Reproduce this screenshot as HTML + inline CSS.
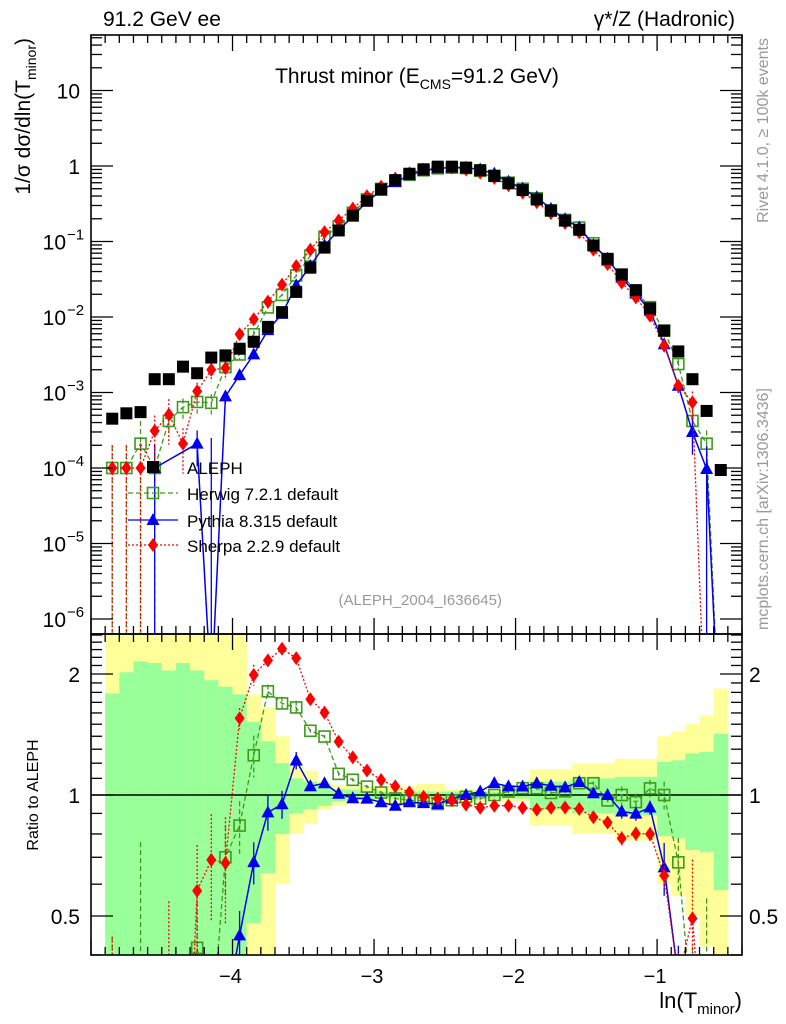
<!DOCTYPE html>
<html><head><meta charset="utf-8"><style>
html,body{margin:0;padding:0;background:#fff;width:786px;height:1024px;overflow:hidden;}
svg{display:block;font-family:"Liberation Sans",Arial,sans-serif;}
</style></head><body>
<svg id="plot" width="786" height="1024" viewBox="0 0 786 1024" overflow="hidden" xmlns="http://www.w3.org/2000/svg">
<defs>
<clipPath id="clipMain"><rect x="91" y="35" width="651" height="599"/></clipPath>
<clipPath id="clipRatio"><rect x="91" y="634" width="651" height="321"/></clipPath>
</defs>
<g id="bands" clip-path="url(#clipRatio)"></g>
<g id="marks"></g>
<g id="axes"></g>
<text x="103" y="26" font-size="21">91.2 GeV ee</text>
<text x="735" y="26" font-size="21" text-anchor="end">γ*/Z (Hadronic)</text>
<text x="417" y="83" font-size="21" text-anchor="middle">Thrust minor (E<tspan font-size="14" dy="6">CMS</tspan><tspan dy="-6">=91.2 GeV)</tspan></text>
<text transform="translate(30,38) rotate(-90)" font-size="21" text-anchor="end">1/σ  dσ/dln(T<tspan font-size="14" dy="6">minor</tspan><tspan dy="-6">)</tspan></text>
<text transform="translate(768,38) rotate(-90)" font-size="16" fill="#999" text-anchor="end">Rivet 4.1.0, ≥ 100k events</text>
<text transform="translate(768,630) rotate(-90)" font-size="16" fill="#999" text-anchor="start">mcplots.cern.ch [arXiv:1306.3436]</text>
<text x="502" y="605" font-size="15" fill="#999" text-anchor="end">(ALEPH_2004_I636645)</text>
<text transform="translate(38,795) rotate(-90)" font-size="16" text-anchor="middle">Ratio to ALEPH</text>
<text x="742" y="1008" font-size="22" text-anchor="end">ln(T<tspan font-size="15" dy="6">minor</tspan><tspan dy="-6">)</tspan></text>
<g id="legend"></g>
</svg>
<script>
const binLow = -4.9;
const binWidth = 0.1;
const aleph = [4.5e-4,5.3e-4,5.5e-4,1.5e-3,1.5e-3,2.2e-3,1.8e-3,2.9e-3,3.1e-3,3.8e-3,4.7e-3,7.4e-3,1.16e-2,2.15e-2,4.5e-2,8.3e-2,0.14,0.22,0.346,0.49,0.65,0.79,0.905,0.98,0.98,0.95,0.88,0.74,0.59,0.48,0.36,0.256,0.189,0.143,0.0886,0.059,0.0365,0.0227,0.013,6.6e-3,3.5e-3,1.5e-3,5.7e-4,9.4e-5];
const statErr = [0.79,1.02,1.15,1.13,1.04,1.13,1.04,0.93,0.86,0.78,0.52,0.36,0.20,0.10,0.08,0.06,0.035,0.03,0.025,0.02,0.02,0.02,0.02,0.02,0.02,0.02,0.02,0.02,0.02,0.02,0.08,0.08,0.08,0.1,0.1,0.1,0.11,0.11,0.11,0.21,0.22,0.27,0.28,0.42];
const totErr = [1.6,1.6,1.6,1.6,1.6,1.6,1.6,1.6,1.6,1.6,0.78,0.65,0.40,0.20,0.15,0.08,0.06,0.05,0.05,0.05,0.05,0.05,0.065,0.065,0.035,0.035,0.035,0.035,0.035,0.035,0.16,0.16,0.16,0.2,0.2,0.2,0.23,0.23,0.23,0.40,0.44,0.50,0.58,0.84];
const herwig = [1.0e-4,1.0e-4,2.1e-4,1.0e-4,4.2e-4,6.4e-4,7.5e-4,7.3e-4,2.17e-3,3.19e-3,5.9e-3,1.34e-2,1.96e-2,3.55e-2,0.065,0.116,0.158,0.24,0.363,0.497,0.637,0.766,0.878,0.931,0.951,0.94,0.862,0.74,0.602,0.499,0.374,0.259,0.193,0.153,0.0948,0.0572,0.0365,0.0218,0.0135,6.6e-3,2.38e-3,4.2e-4,2.1e-4,0];
const herwigErr = [1,1,1,1,0.3,0.3,0.3,0.3,0.2,0.15,0.12,0.04,0.04,0.04,0.01,0.01,0.01,0.01,0.01,0.01,0.01,0.01,0.01,0.01,0.01,0.01,0.01,0.01,0.01,0.01,0.01,0.01,0.01,0.01,0.01,0.01,0.05,0.05,0.05,0.08,0.15,0.5,0.5,0];
const pythia = [null,null,null,1.0e-4,null,null,2.1e-4,1e-7,8.9e-4,1.7e-3,3.2e-3,6.7e-3,1.1e-2,2.62e-2,0.0473,0.0888,0.141,0.216,0.339,0.47,0.611,0.758,0.864,0.931,0.96,0.95,0.898,0.792,0.62,0.504,0.385,0.27,0.1975,0.154,0.0895,0.059,0.0332,0.0204,0.0121,4.36e-3,1.23e-3,3.0e-4,9.7e-5,0];
const pythiaErr = [0,0,0,1,0,0,0.5,2500,0.2,0.15,0.12,0.1,0.08,0.05,0.02,0.01,0.01,0.01,0.01,0.01,0.01,0.01,0.01,0.01,0.01,0.01,0.01,0.01,0.01,0.01,0.01,0.01,0.01,0.01,0.01,0.01,0.04,0.04,0.04,0.15,0.2,0.5,1,0];
const sherpa = [1.0e-4,1.0e-4,1.0e-4,3.1e-4,5.1e-4,2.1e-4,1.04e-3,2.0e-3,2.1e-3,5.9e-3,9.35e-3,0.016,0.0268,0.0471,0.0779,0.133,0.19,0.273,0.398,0.534,0.683,0.802,0.896,0.96,0.951,0.899,0.818,0.696,0.555,0.446,0.331,0.238,0.176,0.132,0.078,0.0504,0.0285,0.0182,0.0104,4.16e-3,1.23e-3,7.4e-4,0,0];
const sherpaErr = [1,1,1,0.6,0.6,0.6,0.3,0.3,0.3,0.06,0.06,0.03,0.03,0.02,0.01,0.01,0.01,0.01,0.01,0.01,0.01,0.01,0.01,0.01,0.01,0.01,0.01,0.01,0.01,0.01,0.01,0.01,0.01,0.01,0.01,0.01,0.04,0.04,0.04,0.08,0.15,0.4,0,0];
const xTicks = [-4,-3,-2,-1];
const xTickLabels = ["−4","−3","−2","−1"];
const yDecades = [1,0,-1,-2,-3,-4,-5,-6];
const ratioTicks = [0.5,1,2];
const ratioTickLabels = ["0.5","1","2"];

const NS="http://www.w3.org/2000/svg";
const X0=91,X1=742,XMIN=-5,XMAX=-0.4;
function xs(v){return X0+(v-XMIN)/(XMAX-XMIN)*(X1-X0);}
function ys(v){return v>0? 166-75.5*Math.log10(v) : 760;}
function rs(r){return r>0? 795-402*Math.log10(r) : 1100;}
function binC(i){return binLow+binWidth*(i+0.5);}
function mk(tag,attrs,parent){const e=document.createElementNS(NS,tag);for(const k in attrs)e.setAttribute(k,attrs[k]);parent.appendChild(e);return e;}

const bands=document.getElementById('bands');
aleph.forEach((a,i)=>{
  const xa=xs(binLow+binWidth*i), xb=xs(binLow+binWidth*(i+1));
  const y1=mk('rect',{x:xa,y:rs(1+totErr[i]),width:xb-xa+0.5,height:rs(Math.max(1-totErr[i],1e-3))-rs(1+totErr[i]),fill:'#ffff99'},bands);
  
  
  const g1=mk('rect',{x:xa,y:rs(1+statErr[i]),width:xb-xa+0.5,height:rs(Math.max(1-statErr[i],1e-3))-rs(1+statErr[i]),fill:'#99ff99'},bands);
  
  
});

const marks=document.getElementById('marks');
const gMain=mk('g',{'clip-path':'url(#clipMain)'},marks);


const gRatio=mk('g',{'clip-path':'url(#clipRatio)'},marks);


const unity=mk('line',{x1:X0,x2:X1,y1:rs(1),y2:rs(1),stroke:'#000','stroke-width':1.5},gRatio);



function marker(type,x,y,col,parent){
  let e;
  if(type==='sq') e=mk('rect',{x:x-6,y:y-6,width:12,height:12,fill:'#000'},parent);
  else if(type==='osq') e=mk('rect',{x:x-5.5,y:y-5.5,width:11,height:11,fill:'none',stroke:col,'stroke-width':1.6},parent);
  else if(type==='tri') e=mk('polygon',{points:`${x},${y-7} ${x-6.5},${y+5} ${x+6.5},${y+5}`,fill:col},parent);
  else e=mk('polygon',{points:`${x},${y-7} ${x-5},${y} ${x},${y+7} ${x+5},${y}`,fill:col},parent);
  return e;
}
const series=[
  {name:'herwig',vals:herwig,err:herwigErr,col:'#3d9a1a',dash:'5,3',m:'osq',w:1.3},
  {name:'pythia',vals:pythia,err:pythiaErr,col:'#0000ee',dash:'',m:'tri',w:1.5},
  {name:'sherpa',vals:sherpa,err:sherpaErr,col:'#ff0000',dash:'2,2',m:'dia',w:1.3}
];
series.forEach(s=>{
  const idx=s.vals.map((v,i)=>i).filter(i=>s.vals[i]!==null);
  const ptsM=idx.map(i=>xs(binC(i))+','+ys(s.vals[i])).join(' ');
  const pl=mk('polyline',{points:ptsM,fill:'none',stroke:s.col,'stroke-width':s.w,'stroke-dasharray':s.dash},gMain);
  
  
  const ptsR=idx.map(i=>xs(binC(i))+','+rs(s.vals[i]/aleph[i])).join(' ');
  const pr=mk('polyline',{points:ptsR,fill:'none',stroke:s.col,'stroke-width':s.w,'stroke-dasharray':s.dash},gRatio);
  
  
  s.vals.forEach((v,i)=>{
    if(v===null||v<=0) return;
    const x=xs(binC(i)), e=s.err[i];
    const lo=v*(1-e), hi=v*(1+e);
    const eb=mk('line',{x1:x,x2:x,y1:ys(hi),y2:ys(lo),stroke:s.col,'stroke-width':1.3,'stroke-dasharray':s.dash},gMain);
    
    
    const r=v/aleph[i];
    const ebr=mk('line',{x1:x,x2:x,y1:rs(r*(1+e)),y2:rs(r*(1-e)),stroke:s.col,'stroke-width':1.3,'stroke-dasharray':s.dash},gRatio);
    
    
    const p=marker(s.m,x,ys(v),s.col,gMain);
    
    
    const q=marker(s.m,x,rs(r),s.col,gRatio);
    
    
  });
});
aleph.forEach((a,i)=>{
  const p=marker('sq',xs(binC(i)),ys(a),'#000',gMain);
  
  
});

const ax=document.getElementById('axes');
function ln(x1,y1,x2,y2,name){const l=mk('line',{x1,y1,x2,y2,stroke:'#000','stroke-width':1.3},ax);return l;}
const fr1=mk('rect',{x:X0,y:35,width:X1-X0,height:599,fill:'none',stroke:'#000','stroke-width':1.6},ax);


const fr2=mk('rect',{x:X0,y:634,width:X1-X0,height:321,fill:'none',stroke:'#000','stroke-width':1.6},ax);


for(let k=0;k<=46;k++){
  const v=XMIN+k*0.1; if(v>XMAX+1e-6) break;
  const x=xs(v); const major=Math.abs(v-Math.round(v))<1e-6;
  const L=major?16:8;
  ln(x,955,x,955-L,'x-tick');ln(x,634,x,634-L,'x-tick');ln(x,634,x,634+L,'x-tick');ln(x,35,x,35+L,'x-tick');
}
xTicks.forEach((v,i)=>{
  const t=mk('text',{x:xs(v)-2,y:983,'font-size':20,'text-anchor':'middle'},ax);t.textContent=xTickLabels[i];
  
  
});
yDecades.forEach(d=>{
  for(let m=1;m<10;m++){
    const v=m*Math.pow(10,d), y=ys(v);
    if(y<35||y>634) continue;
    const L=m===1?22:11;
    ln(X0,y,X0+L,y,'y-tick');ln(X1,y,X1-L,y,'y-tick');
  }
  const y=ys(Math.pow(10,d));
  const t=mk('text',{x:d<0?66:80,y:y+8,'font-size':21,'text-anchor':'end'},ax);
  
  
  if(d===1) t.textContent='10'; else if(d===0) t.textContent='1';
  else {t.textContent='10';const s=mk('tspan',{'font-size':15,dy:-10,x:67,'text-anchor':'start'},t);s.textContent='−'+(-d);}
});
for(let k=4;k<=25;k++){
  const r=k/10, y=rs(r);
  const major=(k===5||k===10||k===20);
  const L=major?22:11;
  ln(X0,y,X0+L,y,'ratio-y-tick');ln(X1,y,X1-L,y,'ratio-y-tick');
}
ratioTicks.forEach((r,i)=>{
  const t=mk('text',{x:80,y:rs(r)+8,'font-size':21,'text-anchor':'end'},ax);t.textContent=ratioTickLabels[i];
  
  
  const t2=mk('text',{x:749,y:rs(r)+8,'font-size':21,'text-anchor':'start'},ax);t2.textContent=ratioTickLabels[i];
  
  
});

const lg=document.getElementById('legend');
const entries=[['ALEPH','sq','#000','',467],['Herwig 7.2.1 default','osq','#3d9a1a','5,3',493],['Pythia 8.315 default','tri','#0000ee','',520],['Sherpa 2.2.9 default','dia','#ff0000','2,2',545]];
entries.forEach(e=>{
  const g=mk('g',{},lg);
  
  
  if(e[1]!=='sq') mk('line',{x1:128,x2:178,y1:e[4],y2:e[4],stroke:e[2],'stroke-width':1.3,'stroke-dasharray':e[3]},g);
  marker(e[1],153,e[4],e[2],g);
  const t=mk('text',{x:187,y:e[4]+7,'font-size':17},g);t.textContent=e[0];
});
</script>
</body></html>
